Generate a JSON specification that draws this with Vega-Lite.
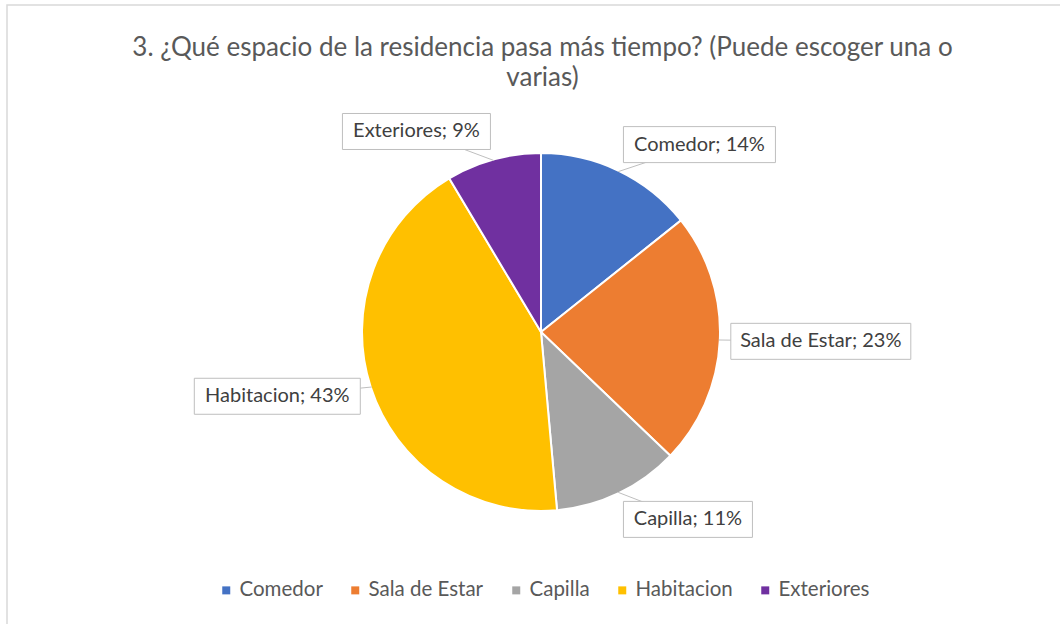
{
  "$schema": "https://vega.github.io/schema/vega-lite/v6.json",
  "width": 1063,
  "height": 629,
  "autosize": {"type": "none"},
  "padding": {"left": 7, "top": 5, "right": -10, "bottom": -10},
  "background": "white",
  "config": {
    "view": {"stroke": "#D9D9D9", "strokeWidth": 1.5},
    "font": "Lato"
  },
  "title": {
    "text": ["3. ¿Qué espacio de la residencia pasa más tiempo? (Puede escoger una o", "varias)"],
    "font": "Lato",
    "fontSize": 26,
    "fontWeight": "normal",
    "color": "#595959",
    "anchor": "middle",
    "frame": "group",
    "orient": "top",
    "offset": -86,
    "lineHeight": 30,
    "dx": 4
  },
  "data": {
    "values": [
      {"cat": "Comedor", "n": 5, "idx": 1},
      {"cat": "Sala de Estar", "n": 8, "idx": 2},
      {"cat": "Capilla", "n": 4, "idx": 3},
      {"cat": "Habitacion", "n": 15, "idx": 4},
      {"cat": "Exteriores", "n": 3, "idx": 5}
    ]
  },
  "transform": [
    {"joinaggregate": [{"op": "sum", "field": "n", "as": "total"}]},
    {"window": [{"op": "sum", "field": "n", "as": "cum"}], "sort": [{"field": "idx"}], "frame": [null, 0]},
    {"calculate": "2*PI*(datum.cum - datum.n/2)/datum.total", "as": "mid"},
    {"calculate": "sin(datum.mid) >= 0 ? 1 : -1", "as": "sgn"},
    {"calculate": "178*sin(datum.mid)", "as": "px0"},
    {"calculate": "178*cos(datum.mid)", "as": "py0"},
    {"calculate": "190*sin(datum.mid)", "as": "ax"},
    {"calculate": "208*cos(datum.mid)", "as": "by"},
    {"calculate": "datum.by + 18", "as": "by1"},
    {"calculate": "datum.by - 18", "as": "by2"},
    {"calculate": "{'Comedor': 152, 'Sala de Estar': 180, 'Capilla': 129, 'Habitacion': 166, 'Exteriores': 148}[datum.cat]", "as": "bw"},
    {"calculate": "datum.ax + datum.sgn*datum.bw", "as": "bx2"},
    {"calculate": "datum.ax + datum.sgn*datum.bw/2", "as": "tx"},
    {"calculate": "datum.cat + '; ' + round(100*datum.n/datum.total) + '%'", "as": "label"}
  ],
  "layer": [
    {
      "mark": {"type": "arc", "outerRadius": 179, "stroke": "white", "strokeWidth": 2},
      "encoding": {
        "theta": {"field": "n", "type": "quantitative", "stack": true},
        "order": {"field": "idx", "type": "quantitative"},
        "x": {"datum": 0, "type": "quantitative", "scale": {"domain": [-534, 529], "nice": false, "zero": false}, "axis": null},
        "y": {"datum": 0, "type": "quantitative", "scale": {"domain": [-302, 327], "nice": false, "zero": false}, "axis": null},
        "color": {
          "field": "cat",
          "type": "nominal",
          "scale": {
            "domain": ["Comedor", "Sala de Estar", "Capilla", "Habitacion", "Exteriores"],
            "range": ["#4472C4", "#ED7D31", "#A5A5A5", "#FFC000", "#7030A0"]
          },
          "legend": {
            "orient": "none",
            "legendX": 209,
            "legendY": 575,
            "direction": "horizontal",
            "title": null,
            "symbolType": "square",
            "symbolSize": 64,
            "symbolStrokeWidth": 0,
            "symbolOpacity": 1,
            "labelFont": "Lato",
            "labelFontSize": 20.5,
            "labelColor": "#595959",
            "labelOffset": 3,
            "columnPadding": 22
          }
        }
      }
    },
    {
      "mark": {"type": "rule", "color": "#BFBFBF", "strokeWidth": 1},
      "encoding": {
        "x": {"field": "px0", "type": "quantitative"},
        "y": {"field": "py0", "type": "quantitative"},
        "x2": {"field": "tx"},
        "y2": {"field": "by"}
      }
    },
    {
      "mark": {"type": "rect", "fill": "white", "stroke": "#BFBFBF", "strokeWidth": 1},
      "encoding": {
        "x": {"field": "ax", "type": "quantitative"},
        "x2": {"field": "bx2"},
        "y": {"field": "by1", "type": "quantitative"},
        "y2": {"field": "by2"}
      }
    },
    {
      "mark": {"type": "text", "font": "Lato", "fontSize": 20, "color": "#404040", "align": "center", "baseline": "middle"},
      "encoding": {
        "x": {"field": "tx", "type": "quantitative"},
        "y": {"field": "by", "type": "quantitative"},
        "text": {"field": "label"}
      }
    }
  ]
}
